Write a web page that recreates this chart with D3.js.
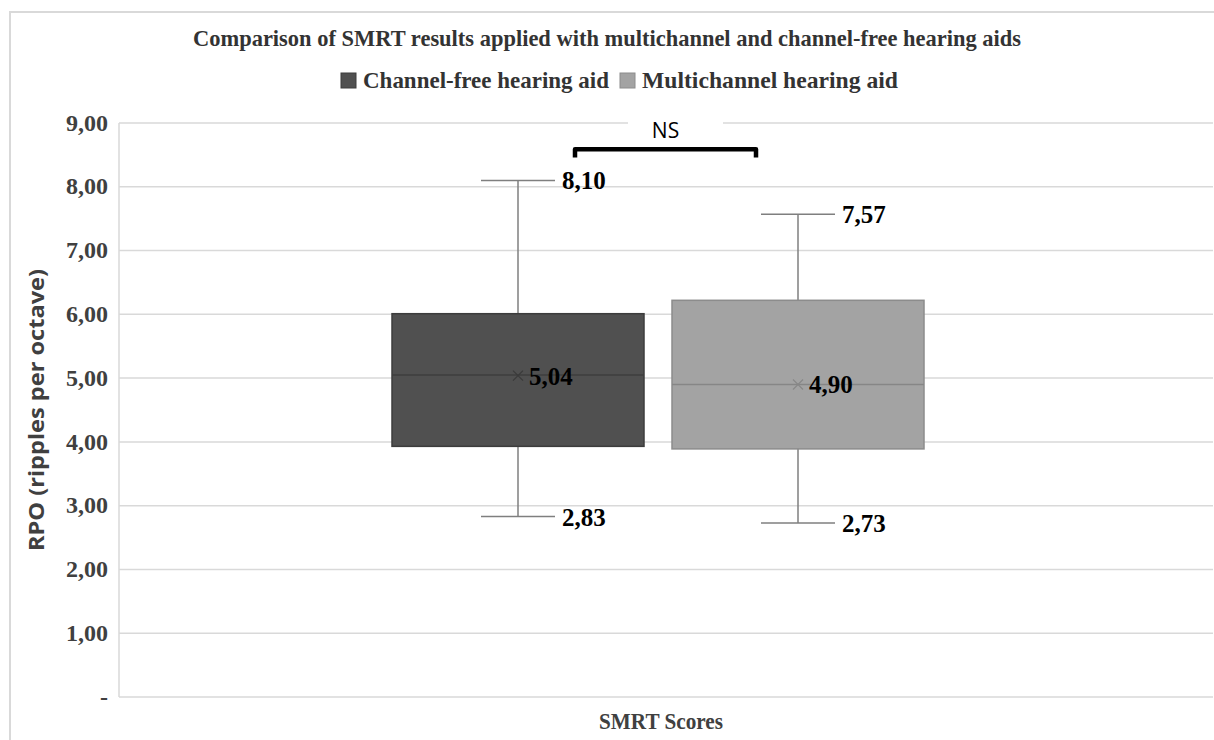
<!DOCTYPE html>
<html>
<head>
<meta charset="utf-8">
<script src="https://d3js.org/d3.v7.min.js"></script>
<style>
    body { margin: 0; background: #fff; }
    .serif { font-family: "Liberation Serif", "Times New Roman", serif; font-weight: bold; }
</style>
</head>
<body>
<svg class="chart"></svg>
<script>
    // data
    var categories = ["SMRT Scores"];
    var seriesNames = ["Channel-free hearing aid", "Multichannel hearing aid"];
    var whiskerLow = [2.83, 2.73];
    var q1 = [3.93, 3.89];
    var medians = [5.05, 4.90];
    var q3 = [6.01, 6.22];
    var whiskerHigh = [8.10, 7.57];
    var means = [5.04, 4.90];
    var yTicks = [0, 1, 2, 3, 4, 5, 6, 7, 8, 9];
    var fills = ["#505050", "#a3a3a3"];
    var strokes = ["#3c3c3c", "#8c8c8c"];

    var W = 1214, H = 740;
    var svg = d3.select(".chart").attr("width", W).attr("height", H);

    // outer frame
    svg.append("rect")
        .attr("x", 10).attr("y", 12)
        .attr("width", W + 20).attr("height", H + 20)
        .attr("fill", "none").attr("stroke", "#d9d9d9").attr("stroke-width", 2);

    var plotLeft = 119, plotRight = 1213, plotTop = 123, plotBottom = 697;

    var y = d3.scaleLinear().domain([0, 9]).range([plotBottom, plotTop]);
    var xCat = d3.scaleBand().domain(categories).range([plotLeft, 1197]);
    var center = xCat(categories[0]) + xCat.bandwidth() / 2;
    var xSer = d3.scaleBand().domain(seriesNames)
        .range([center - 266, center + 266]).paddingInner(0.1);

    var fmt = function(v) { return v === 0 ? "-" : d3.format(".2f")(v).replace(".", ","); };

    // gridlines
    svg.append("g").selectAll("line").data(yTicks.filter(function(d) { return d > 0; }))
        .enter().append("line")
        .attr("x1", plotLeft).attr("x2", plotRight)
        .attr("y1", function(d) { return y(d); }).attr("y2", function(d) { return y(d); })
        .attr("stroke", "#d9d9d9").attr("stroke-width", 1.5);

    // axes lines
    svg.append("line").attr("x1", plotLeft).attr("x2", plotLeft).attr("y1", plotTop).attr("y2", plotBottom)
        .attr("stroke", "#d9d9d9").attr("stroke-width", 1.5);
    svg.append("line").attr("x1", plotLeft).attr("x2", plotRight).attr("y1", plotBottom).attr("y2", plotBottom)
        .attr("stroke", "#d9d9d9").attr("stroke-width", 1.5);

    // y axis labels
    var yAxis = d3.axisLeft(y).tickValues(yTicks).tickFormat(fmt).tickSize(0).tickPadding(11);
    var gy = svg.append("g").attr("transform", "translate(" + plotLeft + ",0)").call(yAxis);
    gy.select(".domain").remove();
    gy.selectAll("text").attr("class", "serif").attr("font-size", 24).attr("fill", "#404040")
        .attr("dy", "0.3em");

    // y title
    svg.append("text")
        .attr("transform", "translate(44," + (plotTop + plotBottom) / 2 + ") rotate(-90)")
        .attr("text-anchor", "middle")
        .attr("font-family", "'Open Sans', 'DejaVu Sans', sans-serif")
        .attr("font-weight", "bold").attr("font-size", 21).attr("fill", "#404040")
        .attr("textLength", 282).attr("lengthAdjust", "spacingAndGlyphs")
        .text("RPO (ripples per octave)");

    // x title
    svg.append("text").attr("class", "serif")
        .attr("x", center + 3).attr("y", 729).attr("text-anchor", "middle")
        .attr("font-size", 23).attr("fill", "#404040")
        .attr("textLength", 124).attr("lengthAdjust", "spacingAndGlyphs")
        .text(categories[0]);

    // chart title
    svg.append("text").attr("class", "serif")
        .attr("x", 607).attr("y", 46).attr("text-anchor", "middle")
        .attr("font-size", 23).attr("fill", "#333")
        .attr("textLength", 828).attr("lengthAdjust", "spacingAndGlyphs")
        .text("Comparison of SMRT results applied with multichannel and channel-free hearing aids");

    // legend
    var legX = [341, 620], legTextW = [246, 256];
    var leg = svg.append("g").selectAll("g").data(seriesNames).enter().append("g");
    leg.append("rect")
        .attr("x", function(d, i) { return legX[i]; }).attr("y", 73)
        .attr("width", 15).attr("height", 15)
        .attr("fill", function(d, i) { return fills[i]; })
        .attr("stroke", function(d, i) { return strokes[i]; });
    leg.append("text").attr("class", "serif")
        .attr("x", function(d, i) { return legX[i] + 22; }).attr("y", 88)
        .attr("font-size", 23).attr("fill", "#333")
        .attr("textLength", function(d, i) { return legTextW[i]; })
        .attr("lengthAdjust", "spacingAndGlyphs")
        .text(function(d) { return d; });

    var cx = function(i) { return xSer(seriesNames[i]) + xSer.bandwidth() / 2; };

    // NS bracket
    var b1 = cx(0) + 57;
    var b2 = cx(1) - 42;
    svg.append("rect").attr("x", 628).attr("y", y(9) - 6).attr("width", 95).attr("height", 12).attr("fill", "#fff");
    svg.append("path")
        .attr("d", "M" + b1 + "," + y(8.46) + "V" + y(8.59) + "H" + b2 + "V" + y(8.46))
        .attr("fill", "none").attr("stroke", "#000").attr("stroke-width", 4.5)
        .attr("stroke-linejoin", "round");
    svg.append("text")
        .attr("x", (b1 + b2) / 2).attr("y", 138).attr("text-anchor", "middle")
        .attr("font-family", "'Open Sans', 'DejaVu Sans', sans-serif")
        .attr("font-size", 21).attr("fill", "#000")
        .text("NS");

    // boxes
    var boxes = svg.append("g").selectAll("g").data(seriesNames).enter().append("g");

    // whiskers
    boxes.append("line")
        .attr("x1", function(d, i) { return cx(i); }).attr("x2", function(d, i) { return cx(i); })
        .attr("y1", function(d, i) { return y(whiskerLow[i]); })
        .attr("y2", function(d, i) { return y(whiskerHigh[i]); })
        .attr("stroke", "#7f7f7f").attr("stroke-width", 1.5);
    [whiskerLow, whiskerHigh].forEach(function(arr) {
        boxes.append("line")
            .attr("x1", function(d, i) { return cx(i) - 37; }).attr("x2", function(d, i) { return cx(i) + 37; })
            .attr("y1", function(d, i) { return y(arr[i]); }).attr("y2", function(d, i) { return y(arr[i]); })
            .attr("stroke", "#7f7f7f").attr("stroke-width", 1.5);
        boxes.append("text").attr("class", "serif")
            .attr("x", function(d, i) { return cx(i) + 44; })
            .attr("y", function(d, i) { return y(arr[i]) + 9; })
            .attr("font-size", 25).attr("fill", "#000")
            .text(function(d, i) { return fmt(arr[i]); });
    });

    boxes.append("rect")
        .attr("x", function(d) { return xSer(d); })
        .attr("width", xSer.bandwidth())
        .attr("y", function(d, i) { return y(q3[i]); })
        .attr("height", function(d, i) { return y(q1[i]) - y(q3[i]); })
        .attr("fill", function(d, i) { return fills[i]; })
        .attr("stroke", function(d, i) { return strokes[i]; }).attr("stroke-width", 1.5);

    // median line
    boxes.append("line")
        .attr("x1", function(d) { return xSer(d); })
        .attr("x2", function(d) { return xSer(d) + xSer.bandwidth(); })
        .attr("y1", function(d, i) { return y(medians[i]); })
        .attr("y2", function(d, i) { return y(medians[i]); })
        .attr("stroke", function(d, i) { return i === 0 ? "#3e3e3e" : "#868686"; })
        .attr("stroke-width", 1.5);

    // mean marker
    boxes.append("path")
        .attr("d", function(d, i) {
            var x0 = cx(i), y0 = y(means[i]), s = 5;
            return "M" + (x0 - s) + "," + (y0 - s) + "L" + (x0 + s) + "," + (y0 + s) +
                "M" + (x0 - s) + "," + (y0 + s) + "L" + (x0 + s) + "," + (y0 - s);
        })
        .attr("stroke", function(d, i) { return i === 0 ? "#3a3a3a" : "#888"; })
        .attr("stroke-width", 1.2).attr("fill", "none");
    boxes.append("text").attr("class", "serif")
        .attr("x", function(d, i) { return cx(i) + 11; })
        .attr("y", function(d, i) { return y(means[i]) + 9; })
        .attr("font-size", 25).attr("fill", "#000")
        .text(function(d, i) { return fmt(means[i]); });
</script>
</body>
</html>
